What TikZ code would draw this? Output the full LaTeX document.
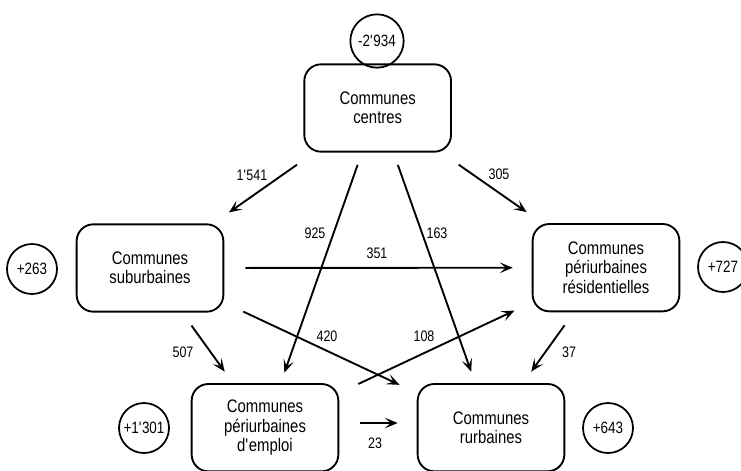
\documentclass[tikz,border=0pt]{standalone}
\usepackage{fontspec}
\setmainfont{Liberation Sans}[FakeStretch=0.82]
\usetikzlibrary{arrows.meta}
\newcommand{\aposq}{\textquotesingle}
\tikzset{
	commune/.style={shape=rectangle,
					draw=black,
					line width=1.6pt,
					rounded corners=0.5cm,
					minimum width=4.4cm,
					minimum height=2.62cm,
					align=center,
					font=\fontsize{15.5pt}{16.5pt}\selectfont},
	solde/.style={shape=circle,
				  draw=black,
				  line width=1.5pt,
				  minimum size=1.5cm,
				  inner sep=0pt,
				  font=\fontsize{14pt}{15pt}\selectfont},
	flux/.style={-{Stealth[length=11pt, width=9pt, inset=5pt]},
				 line width=1.6pt,
				 shorten <=0.63cm,
				 shorten >=0.57cm},
	chiffre/.style={font=\fontsize{13pt}{14pt}\selectfont, inner sep=1pt}
}
\begin{document}
\begin{tikzpicture}
	\useasboundingbox (0,0) rectangle (22.23,-14.1);
	
	% types de communes
	\draw (11.33,-3.24) node[commune](cen){Communes\\centres};
	\draw (4.5,-8.04) node[commune](sub){Communes\\suburbaines};
	\draw (18.18,-8.03) node[commune](res){Communes\\périurbaines\\résidentielles};
	\draw (7.95,-12.83) node[commune](emp){Communes\\périurbaines\\d\aposq emploi};
	\draw (14.73,-12.83) node[commune](rur){Communes\\rurbaines};
	
	% soldes
	\draw (11.31,-1.23) node[solde, minimum size=1.6cm](scen){-2\aposq934};
	\draw (0.96,-8.07) node[solde](ssub){+263};
	\draw (21.69,-8.01) node[solde](sres){+727};
	\draw (4.32,-12.84) node[solde](semp){+1\aposq301};
	\draw (18.24,-12.84) node[solde](srur){+643};
	
	% flux
	\draw [flux](cen) -- (sub);
	\draw [flux](cen) -- (res);
	\draw [flux, shorten <=0.39cm, shorten >=0.33cm](cen) -- (emp);
	\draw [flux, shorten <=0.39cm, shorten >=0.36cm](cen) -- (rur);
	\draw [flux](sub) -- (res);
	\draw [flux](sub) -- (rur);
	\draw [flux](emp) -- (res);
	\draw [flux, shorten <=0.48cm, shorten >=0.42cm](sub) -- (emp);
	\draw [flux, shorten <=0.48cm, shorten >=0.42cm](res) -- (rur);
	\draw [flux]([yshift=0.14cm]emp.east) -- ([yshift=0.14cm]rur.west);
	
	\draw (7.56,-5.25) node[chiffre](n1541){1\aposq541};
	\draw (14.97,-5.22) node[chiffre](n305){305};
	\draw (9.45,-6.99) node[chiffre](n925){925};
	\draw (13.11,-6.99) node[chiffre](n163){163};
	\draw (11.31,-7.59) node[chiffre](n351){351};
	\draw (9.81,-10.08) node[chiffre](n420){420};
	\draw (12.72,-10.08) node[chiffre](n108){108};
	\draw (5.49,-10.56) node[chiffre](n507){507};
	\draw (17.07,-10.56) node[chiffre](n37){37};
	\draw (11.25,-13.29) node[chiffre](n23){23};
\end{tikzpicture}
\end{document}
